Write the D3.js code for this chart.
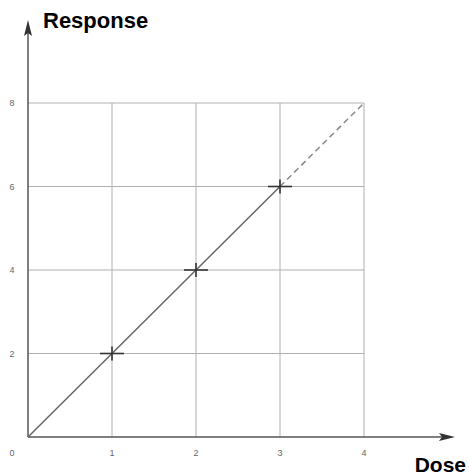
<!DOCTYPE html>
<html>
<head>
<meta charset="utf-8">
<script src="https://cdn.jsdelivr.net/npm/d3@7"></script>
<style>
  body { margin: 0; background: #fff; }
  svg { display: block; }
</style>
</head>
<body>
<div id="chart"></div>
<script>
// measured doses and responses
const doses = [0, 1, 2, 3];
const responses = [0, 2, 4, 6];
// points marked with a cross
const markedDoses = [1, 2, 3];
const markedResponses = [2, 4, 6];
// dashed extrapolation
const extraDoses = [3, 4];
const extraResponses = [6, 8];
// tick labels
const xTicks = [1, 2, 3, 4];
const yTicks = [2, 4, 6, 8];

const width = 469, height = 476;

const svg = d3.select("#chart")
  .append("svg")
  .attr("width", width)
  .attr("height", height);

const x = d3.scaleLinear().domain([0, 4]).range([28, 364]);
const y = d3.scaleLinear().domain([0, 8]).range([437, 103]);

// grid lines
const grid = svg.append("g").attr("stroke", "#b0b0b0").attr("stroke-width", 1);
grid.selectAll(".vx")
  .data([1, 2, 3, 4])
  .enter()
  .append("line")
  .attr("x1", d => x(d)).attr("x2", d => x(d))
  .attr("y1", y(0)).attr("y2", y(8));
grid.selectAll(".hy")
  .data([2, 4, 6, 8])
  .enter()
  .append("line")
  .attr("x1", x(0)).attr("x2", x(4))
  .attr("y1", d => y(d)).attr("y2", d => y(d));

// axes with arrows
svg.append("line")
  .attr("x1", x(0)).attr("x2", 447)
  .attr("y1", y(0)).attr("y2", y(0))
  .attr("stroke", "#555").attr("stroke-width", 1.5);
svg.append("path")
  .attr("d", `M455,${y(0)} L439,${y(0) - 4} L442,${y(0)} L439,${y(0) + 4} Z`)
  .attr("fill", "#333");
svg.append("line")
  .attr("x1", x(0)).attr("x2", x(0))
  .attr("y1", y(0)).attr("y2", 30)
  .attr("stroke", "#555").attr("stroke-width", 1.5);
svg.append("path")
  .attr("d", `M${x(0)},20 L${x(0) - 4},36 L${x(0)},33 L${x(0) + 4},36 Z`)
  .attr("fill", "#333");

// tick labels
const tickFont = "Liberation Sans, Arial, sans-serif";
svg.selectAll(".xt")
  .data(xTicks)
  .enter()
  .append("text")
  .attr("x", d => x(d))
  .attr("y", 456)
  .attr("text-anchor", "middle")
  .attr("font-family", tickFont)
  .attr("font-size", 9)
  .attr("fill", "#666")
  .text(d => d);
svg.selectAll(".yt")
  .data(yTicks)
  .enter()
  .append("text")
  .attr("x", 12)
  .attr("y", d => y(d) + 3)
  .attr("text-anchor", "middle")
  .attr("font-family", tickFont)
  .attr("font-size", 9)
  .attr("fill", "#666")
  .text(d => d);
svg.append("text")
  .attr("x", 12).attr("y", 456)
  .attr("text-anchor", "middle")
  .attr("font-family", tickFont)
  .attr("font-size", 9)
  .attr("fill", "#666")
  .text("0");

// dose-response line
const line = d3.line()
  .x(d => x(d[0]))
  .y(d => y(d[1]));

svg.append("path")
  .datum(d3.zip(doses, responses))
  .attr("d", line)
  .attr("fill", "none")
  .attr("stroke", "#666")
  .attr("stroke-width", 1.5);

svg.append("path")
  .datum(d3.zip(extraDoses, extraResponses))
  .attr("d", line)
  .attr("fill", "none")
  .attr("stroke", "#888")
  .attr("stroke-width", 1.5)
  .attr("stroke-dasharray", "6,4");

// cross markers
const marks = svg.selectAll(".mark")
  .data(d3.zip(markedDoses, markedResponses))
  .enter()
  .append("g")
  .attr("stroke", "#333")
  .attr("stroke-width", 1.6);
marks.append("line")
  .attr("x1", d => x(d[0]) - 12).attr("x2", d => x(d[0]) + 12)
  .attr("y1", d => y(d[1])).attr("y2", d => y(d[1]));
marks.append("line")
  .attr("x1", d => x(d[0])).attr("x2", d => x(d[0]))
  .attr("y1", d => y(d[1]) - 7).attr("y2", d => y(d[1]) + 7);

// axis titles
svg.append("text")
  .attr("x", 43).attr("y", 28)
  .attr("font-family", "Liberation Sans, Arial, sans-serif")
  .attr("font-weight", "bold")
  .attr("font-size", 22)
  .attr("fill", "#000")
  .text("Response");
svg.append("text")
  .attr("x", 466).attr("y", 472)
  .attr("text-anchor", "end")
  .attr("font-family", "Liberation Sans, Arial, sans-serif")
  .attr("font-weight", "bold")
  .attr("font-size", 21)
  .attr("fill", "#000")
  .text("Dose");
</script>
</body>
</html>
